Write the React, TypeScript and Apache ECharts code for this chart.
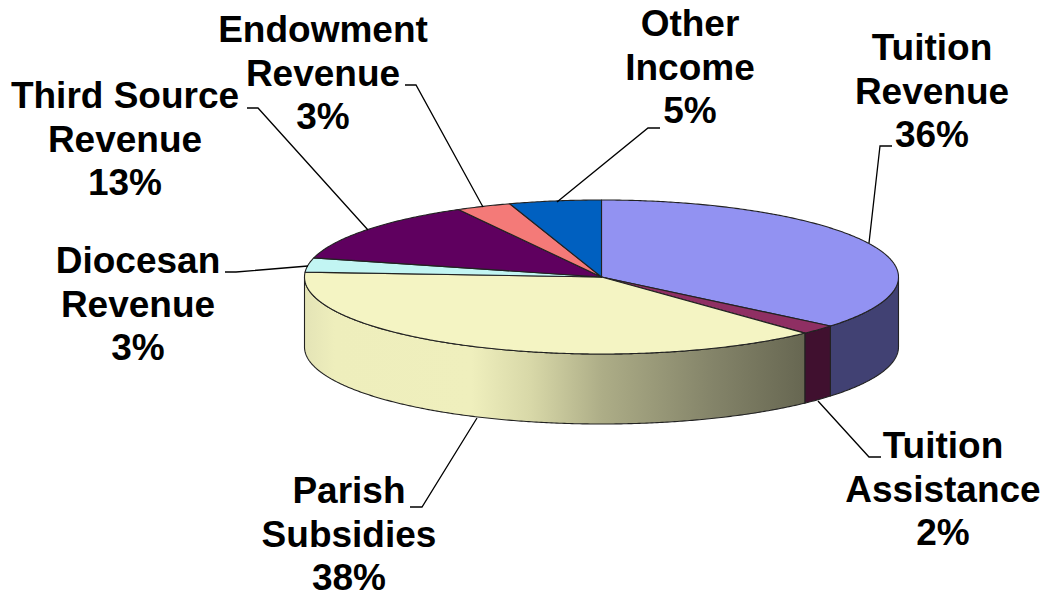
import React, { useEffect, useRef } from "react";
import * as echarts from "echarts";

const categories = ["Tuition\nRevenue", "Tuition\nAssistance", "Parish\nSubsidies", "Diocesan\nRevenue", "Third Source\nRevenue", "Endowment\nRevenue", "Other\nIncome"];
const shares = [36, 2, 38, 3, 13, 3, 5];
const topColors = ["#9292F2", "#8F2F63", "#F4F4C3", "#C2F5F3", "#5F005F", "#F47A78", "#0060C0"];
const wallColors = ["#414173", "#40102F", "#000000", "#000000", "#000000", "#000000", "#000000"];
const labelCenters = [[932, 91], [943, 489], [349, 534], [138, 304], [125, 139], [323, 73], [690, 67]];
const leaders = [
  [[892, 146], [880, 146], [869, 243]],
  [[881, 457], [869, 457], [818, 401]],
  [[410, 507], [422, 507], [477, 418]],
  [[225, 272], [236, 272], [308, 266]],
  [[247, 108], [258, 108], [368, 230]],
  [[405, 85], [416, 85], [483, 207]],
  [[660, 128], [648, 128], [557, 202]],
];

const CX = 601.5, CY = 277, RX = 297, RY = 77, DEPTH = 70;
const FONT = 37, LINE = 43.5;
const total = shares.reduce((a, b) => a + b, 0);
const pt = (deg: number, dy = 0) => {
  const r = (deg * Math.PI) / 180;
  return [CX + RX * Math.sin(r), CY - RY * Math.cos(r) + dy];
};
const arc = (a: number, b: number, dy = 0) => {
  const out: number[][] = [];
  const n = Math.max(2, Math.ceil((b - a) / 0.5));
  for (let i = 0; i <= n; i++) out.push(pt(a + ((b - a) * i) / n, dy));
  return out;
};

const parishWall = new echarts.graphic.LinearGradient(305, 0, 899, 0, [
  { offset: 0, color: "#E4E4B6" },
  { offset: 0.05, color: "#EEEEBC" },
  { offset: 0.28, color: "#EFEFBD" },
  { offset: 0.38, color: "#D8D8A8" },
  { offset: 0.5, color: "#ADAD87" },
  { offset: 0.68, color: "#85856A" },
  { offset: 0.85, color: "#656550" },
  { offset: 1, color: "#656550" },
], true);

const renderSlice = (params: any, api: any) => {
  const i = params.dataIndex;
  let before = 0;
  for (let k = 0; k < i; k++) before += shares[k];
  const start = (before / total) * 360;
  const end = start + (api.value(0) / total) * 360;
  const children: any[] = [];
  const edge = { stroke: "#222222", lineWidth: 1.1, lineJoin: "round" };
  const wa = Math.max(start, 90), wb = Math.min(end, 270);
  if (wb > wa) {
    children.push({
      type: "polygon",
      shape: { points: [...arc(wa, wb), ...arc(wa, wb, DEPTH).reverse()] },
      style: { fill: i === 2 ? parishWall : wallColors[i], ...edge },
    });
  }
  children.push({
    type: "polygon",
    shape: { points: [[CX, CY], ...arc(start, end)] },
    style: { fill: topColors[i], ...edge },
  });
  children.push({
    type: "polyline",
    shape: { points: leaders[i] },
    style: { fill: "none", stroke: "#000", lineWidth: 1.3 },
  });
  const lines = [...categories[i].split("\n"), `${api.value(0)}%`];
  lines.forEach((line, n) => {
    children.push({
      type: "text",
      x: labelCenters[i][0],
      y: labelCenters[i][1] + (n - 1) * LINE,
      style: {
        text: line,
        fontFamily: "Liberation Sans",
        fontWeight: "bold",
        fontSize: FONT,
        lineHeight: FONT,
        fill: "#000",
        align: "center",
        verticalAlign: "middle",
      },
    });
  });
  return { type: "group", children };
};

export default function App() {
  const ref = useRef<HTMLDivElement>(null);
  useEffect(() => {
    const chart = echarts.init(ref.current!, null, { renderer: "svg" });
    chart.setOption({
      animation: false,
      backgroundColor: "#fff",
      series: [
        {
          type: "custom",
          coordinateSystem: "none",
          silent: true,
          data: shares.map((v) => [v]),
          renderItem: renderSlice,
        },
      ],
    });
    return () => chart.dispose();
  }, []);
  return <div ref={ref} style={{ position: "absolute", left: 0, top: 0, width: 1044, height: 599 }} />;
}
